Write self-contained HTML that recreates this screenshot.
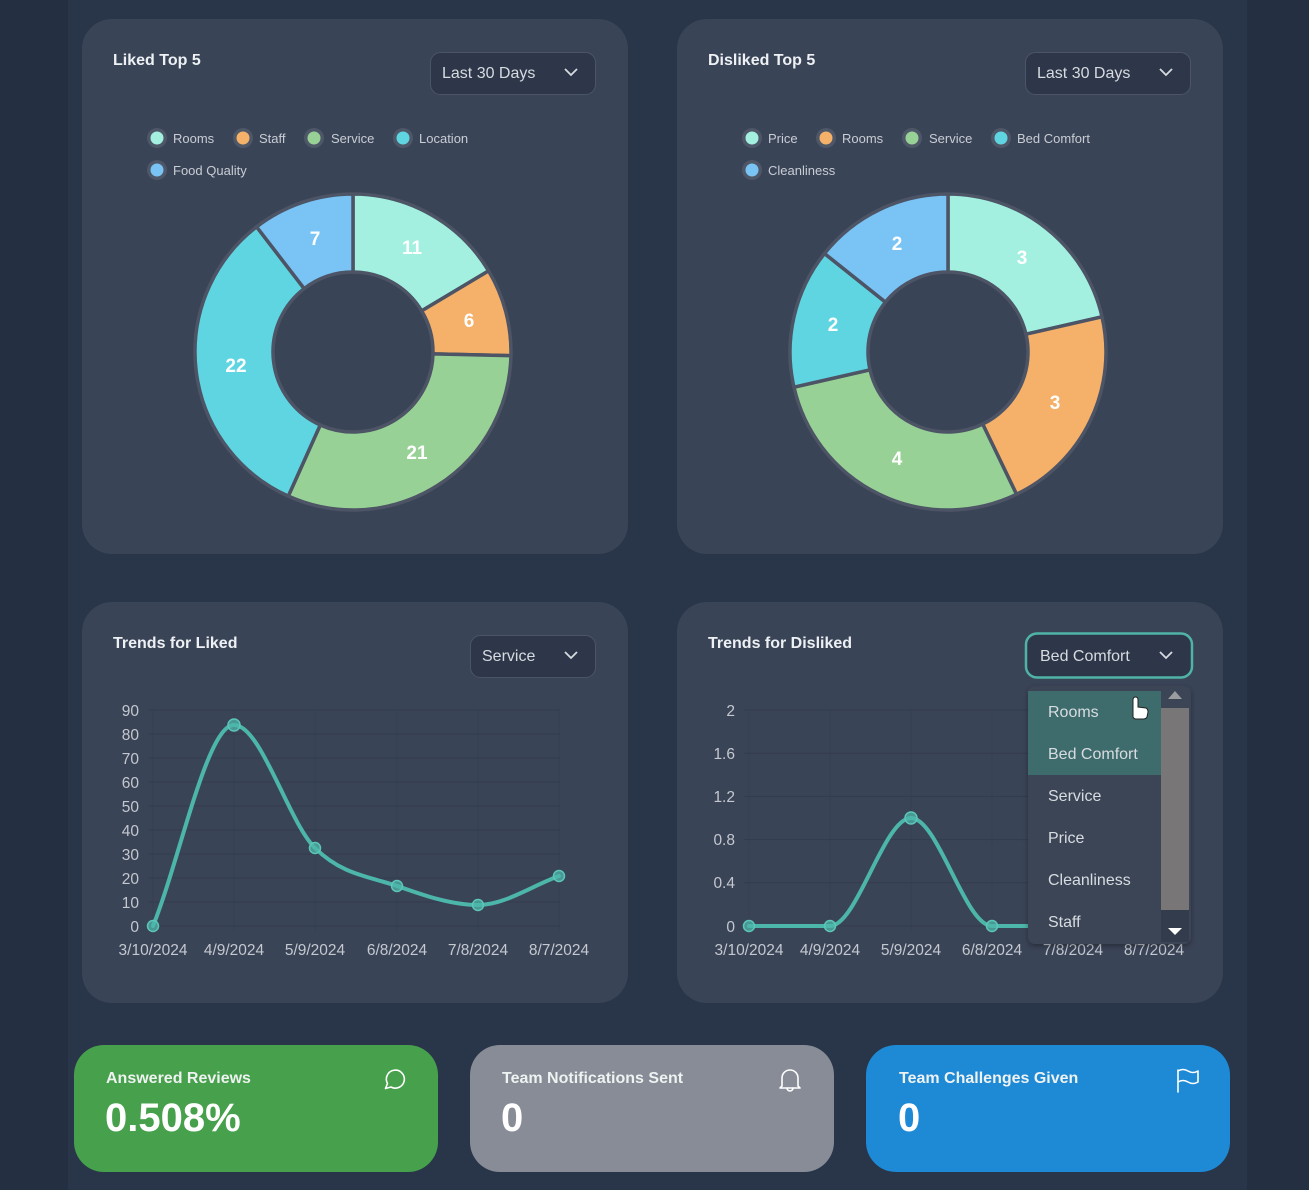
<!DOCTYPE html>
<html><head><meta charset="utf-8">
<style>
html,body{margin:0;padding:0;background:#243042;}
svg{display:block;font-family:"Liberation Sans",Arial,sans-serif;}
</style></head>
<body>
<svg width="1309" height="1190" viewBox="0 0 1309 1190" xmlns="http://www.w3.org/2000/svg">
<defs>
<filter id="sh" x="-20%" y="-20%" width="140%" height="140%"><feDropShadow dx="0" dy="2" stdDeviation="3" flood-color="#000" flood-opacity="0.35"/></filter>
</defs>
<rect width="1309" height="1190" fill="#243042"/>
<rect x="68" y="0" width="1179" height="1190" fill="#293548"/>

<!-- Panels -->
<rect x="82" y="19" width="546" height="535" rx="30" fill="#3a4457"/>
<rect x="677" y="19" width="546" height="535" rx="30" fill="#3a4457"/>
<rect x="82" y="602" width="546" height="401" rx="30" fill="#3a4457"/>
<rect x="677" y="602" width="546" height="401" rx="30" fill="#3a4457"/>

<!-- Titles -->
<g font-weight="bold" font-size="16" fill="#eef1f4">
<text x="113" y="65">Liked Top 5</text>
<text x="708" y="65">Disliked Top 5</text>
<text x="113" y="648">Trends for Liked</text>
<text x="708" y="648">Trends for Disliked</text>
</g>

<!-- Dropdown boxes -->
<g font-size="16" fill="#d7dbe0">
<rect x="430.5" y="52.5" width="165" height="42" rx="10" fill="#2d3749" stroke="#4b5567"/>
<text x="442" y="78">Last 30 Days</text>
<polyline points="565,69 571,75 577,69" fill="none" stroke="#d7dbe0" stroke-width="1.8"/>
<rect x="1025.5" y="52.5" width="165" height="42" rx="10" fill="#2d3749" stroke="#4b5567"/>
<text x="1037" y="78">Last 30 Days</text>
<polyline points="1160,69 1166,75 1172,69" fill="none" stroke="#d7dbe0" stroke-width="1.8"/>
<rect x="470.5" y="635.5" width="125" height="42" rx="10" fill="#2d3749" stroke="#4b5567"/>
<text x="482" y="661">Service</text>
<polyline points="565,652 571,658 577,652" fill="none" stroke="#d7dbe0" stroke-width="1.8"/>
<rect x="1026" y="633.5" width="166" height="44" rx="11" fill="#2d3749" stroke="#4fb3a8" stroke-width="2.5"/>
<text x="1040" y="661">Bed Comfort</text>
<polyline points="1160,652 1166,658 1172,652" fill="none" stroke="#d7dbe0" stroke-width="1.8"/>
</g>

<!-- Legends -->
<g font-size="13" fill="#c9cdd4">
<circle cx="157" cy="138" r="10" fill="#4e5768"/><circle cx="157" cy="138" r="6.5" fill="#a3f0e0"/><text x="173" y="143">Rooms</text>
<circle cx="243" cy="138" r="10" fill="#4e5768"/><circle cx="243" cy="138" r="6.5" fill="#f5b069"/><text x="259" y="143">Staff</text>
<circle cx="314" cy="138" r="10" fill="#4e5768"/><circle cx="314" cy="138" r="6.5" fill="#98d195"/><text x="331" y="143">Service</text>
<circle cx="403" cy="138" r="10" fill="#4e5768"/><circle cx="403" cy="138" r="6.5" fill="#5fd5e2"/><text x="419" y="143">Location</text>
<circle cx="157" cy="170" r="10" fill="#4e5768"/><circle cx="157" cy="170" r="6.5" fill="#79c3f5"/><text x="173" y="175">Food Quality</text>

<circle cx="752" cy="138" r="10" fill="#4e5768"/><circle cx="752" cy="138" r="6.5" fill="#a3f0e0"/><text x="768" y="143">Price</text>
<circle cx="826" cy="138" r="10" fill="#4e5768"/><circle cx="826" cy="138" r="6.5" fill="#f5b069"/><text x="842" y="143">Rooms</text>
<circle cx="912" cy="138" r="10" fill="#4e5768"/><circle cx="912" cy="138" r="6.5" fill="#98d195"/><text x="929" y="143">Service</text>
<circle cx="1001" cy="138" r="10" fill="#4e5768"/><circle cx="1001" cy="138" r="6.5" fill="#5fd5e2"/><text x="1017" y="143">Bed Comfort</text>
<circle cx="752" cy="170" r="10" fill="#4e5768"/><circle cx="752" cy="170" r="6.5" fill="#79c3f5"/><text x="768" y="175">Cleanliness</text>
</g>

<!-- Left donut -->
<g stroke="#4c5465" stroke-width="3.5" stroke-linejoin="round">
<path d="M353,194 A158,158 0 0 1 488.58,270.87 L421.65,310.92 A80,80 0 0 0 353,272 Z" fill="#a3f0e0"/>
<path d="M488.58,270.87 A158,158 0 0 1 510.96,355.70 L432.98,353.87 A80,80 0 0 0 421.65,310.92 Z" fill="#f5b069"/>
<path d="M510.96,355.70 A158,158 0 0 1 288.28,496.13 L320.23,424.98 A80,80 0 0 0 432.98,353.87 Z" fill="#98d195"/>
<path d="M288.28,496.13 A158,158 0 0 1 256.59,226.82 L304.18,288.62 A80,80 0 0 0 320.23,424.98 Z" fill="#5fd5e2"/>
<path d="M256.59,226.82 A158,158 0 0 1 353,194 L353,272 A80,80 0 0 0 304.18,288.62 Z" fill="#79c3f5"/>
</g>
<g font-size="19" font-weight="bold" fill="#ffffff" text-anchor="middle">
<text x="412" y="254">11</text>
<text x="469" y="327">6</text>
<text x="417" y="459">21</text>
<text x="236" y="372">22</text>
<text x="315" y="245">7</text>
</g>

<!-- Right donut -->
<g stroke="#4c5465" stroke-width="3.5" stroke-linejoin="round">
<path d="M948,194 A158,158 0 0 1 1102.04,316.84 L1025.99,334.20 A80,80 0 0 0 948,272 Z" fill="#a3f0e0"/>
<path d="M1102.04,316.84 A158,158 0 0 1 1016.55,494.35 L982.71,424.08 A80,80 0 0 0 1025.99,334.20 Z" fill="#f5b069"/>
<path d="M1016.55,494.35 A158,158 0 0 1 793.96,387.16 L870.01,369.80 A80,80 0 0 0 982.71,424.08 Z" fill="#98d195"/>
<path d="M793.96,387.16 A158,158 0 0 1 824.47,253.49 L885.45,302.12 A80,80 0 0 0 870.01,369.80 Z" fill="#5fd5e2"/>
<path d="M824.47,253.49 A158,158 0 0 1 948,194 L948,272 A80,80 0 0 0 885.45,302.12 Z" fill="#79c3f5"/>
</g>
<g font-size="19" font-weight="bold" fill="#ffffff" text-anchor="middle">
<text x="1022" y="264">3</text>
<text x="1055" y="409">3</text>
<text x="897" y="465">4</text>
<text x="833" y="331">2</text>
<text x="897" y="250">2</text>
</g>

<!-- Left line chart grid -->
<g stroke="#323c4e" stroke-width="1">
<line x1="148" y1="710" x2="560" y2="710"/><line x1="148" y1="734" x2="560" y2="734"/>
<line x1="148" y1="758" x2="560" y2="758"/><line x1="148" y1="782" x2="560" y2="782"/>
<line x1="148" y1="806" x2="560" y2="806"/><line x1="148" y1="830" x2="560" y2="830"/>
<line x1="148" y1="854" x2="560" y2="854"/><line x1="148" y1="878" x2="560" y2="878"/>
<line x1="148" y1="902" x2="560" y2="902"/><line x1="148" y1="926" x2="560" y2="926"/>
<line x1="153" y1="710" x2="153" y2="931" opacity="0.6"/><line x1="234" y1="710" x2="234" y2="931" opacity="0.4"/>
<line x1="315" y1="710" x2="315" y2="931" opacity="0.4"/><line x1="397" y1="710" x2="397" y2="931" opacity="0.4"/>
<line x1="478" y1="710" x2="478" y2="931" opacity="0.4"/><line x1="559" y1="710" x2="559" y2="931" opacity="0.4"/>
</g>
<g font-size="15.5" fill="#c4c8cf" text-anchor="end">
<text x="139" y="716">90</text><text x="139" y="740">80</text><text x="139" y="764">70</text>
<text x="139" y="788">60</text><text x="139" y="812">50</text><text x="139" y="836">40</text>
<text x="139" y="860">30</text><text x="139" y="884">20</text><text x="139" y="908">10</text>
<text x="139" y="932">0</text>
</g>
<g font-size="15.5" fill="#c4c8cf" text-anchor="middle">
<text x="153" y="955">3/10/2024</text><text x="234" y="955">4/9/2024</text>
<text x="315" y="955">5/9/2024</text><text x="397" y="955">6/8/2024</text>
<text x="478" y="955">7/8/2024</text><text x="559" y="955">8/7/2024</text>
</g>
<path d="M153,926 C180,859 207,725 234,725 C261,725 288,821.2 315,848 C342.3,875.1 369.7,876.5 397,886 C424,895.4 451,905 478,905 C505,905 532,885.7 559,876" fill="none" stroke="#4db6aa" stroke-width="4" stroke-linecap="round"/>
<g fill="#4db6aa" fill-opacity="0.75" stroke="#5cc6b9" stroke-width="1.5">
<circle cx="153" cy="926" r="5.5"/><circle cx="234" cy="725" r="6"/><circle cx="315" cy="848" r="5.5"/>
<circle cx="397" cy="886" r="5.5"/><circle cx="478" cy="905" r="5.5"/><circle cx="559" cy="876" r="5.5"/>
</g>

<!-- Right line chart -->
<g stroke="#323c4e" stroke-width="1">
<line x1="744" y1="710" x2="1160" y2="710"/><line x1="744" y1="753.2" x2="1160" y2="753.2"/>
<line x1="744" y1="796.4" x2="1160" y2="796.4"/><line x1="744" y1="839.6" x2="1160" y2="839.6"/>
<line x1="744" y1="882.8" x2="1160" y2="882.8"/><line x1="744" y1="926" x2="1160" y2="926"/>
<line x1="749" y1="710" x2="749" y2="931" opacity="0.6"/><line x1="830" y1="710" x2="830" y2="931" opacity="0.4"/>
<line x1="911" y1="710" x2="911" y2="931" opacity="0.4"/><line x1="992" y1="710" x2="992" y2="931" opacity="0.4"/>
</g>
<g font-size="15.5" fill="#c4c8cf" text-anchor="end">
<text x="735" y="716">2</text><text x="735" y="759">1.6</text><text x="735" y="802">1.2</text>
<text x="735" y="845">0.8</text><text x="735" y="888">0.4</text><text x="735" y="932">0</text>
</g>
<g font-size="15.5" fill="#c4c8cf" text-anchor="middle">
<text x="749" y="955">3/10/2024</text><text x="830" y="955">4/9/2024</text>
<text x="911" y="955">5/9/2024</text><text x="992" y="955">6/8/2024</text>
<text x="1073" y="955">7/8/2024</text><text x="1154" y="955">8/7/2024</text>
</g>
<path d="M749,926 L830,926 C857,926 884,818 911,818 C938,818 965,926 992,926 L1154,926" fill="none" stroke="#4db6aa" stroke-width="4" stroke-linecap="round"/>
<g fill="#4db6aa" fill-opacity="0.75" stroke="#5cc6b9" stroke-width="1.5">
<circle cx="749" cy="926" r="5.5"/><circle cx="830" cy="926" r="5.5"/><circle cx="911" cy="818" r="6"/>
<circle cx="992" cy="926" r="5.5"/>
</g>

<!-- Dropdown list -->
<g filter="url(#sh)">
<rect x="1028" y="686" width="163" height="258" rx="7" fill="#3a4457"/>
</g>
<rect x="1028" y="691" width="133" height="84" fill="#3e6c6c"/>
<rect x="1161" y="708" width="28" height="202" fill="#787676"/>
<rect x="1161" y="910" width="28" height="32" fill="#333c4d"/>
<polygon points="1168,699 1182,699 1175,691" fill="#9a9ca0"/>
<polygon points="1168,928 1182,928 1175,935" fill="#ffffff"/>
<g font-size="16" fill="#d8dce1">
<text x="1048" y="717">Rooms</text>
<text x="1048" y="759">Bed Comfort</text>
<text x="1048" y="801">Service</text>
<text x="1048" y="843">Price</text>
<text x="1048" y="885">Cleanliness</text>
<text x="1048" y="927">Staff</text>
</g>
<!-- hand cursor -->
<path d="M1133,714 L1133,700 Q1133,697 1135.5,697 Q1138,697 1138,700 L1138,707 L1146,708 Q1148,709 1148,712 L1147,717 Q1146,719 1143,719 L1136,719 Q1134,719 1133,717 Z" fill="#ffffff" stroke="#222" stroke-width="1"/>

<!-- Stat cards -->
<rect x="74" y="1045" width="364" height="127" rx="30" fill="#47a04b"/>
<rect x="470" y="1045" width="364" height="127" rx="30" fill="#878c97"/>
<rect x="866" y="1045" width="364" height="127" rx="30" fill="#1e89d5"/>
<g font-weight="bold" font-size="16" fill="#eef2f0">
<text x="106" y="1083">Answered Reviews</text>
<text x="502" y="1083">Team Notifications Sent</text>
<text x="899" y="1083">Team Challenges Given</text>
</g>
<g font-weight="bold" font-size="40" fill="#ffffff">
<text x="105" y="1131">0.508%</text>
<text x="501" y="1131">0</text>
<text x="898" y="1131">0</text>
</g>
<!-- icons -->
<path d="M385.5,1088.5 L387.5,1083.5 A9,9 0 1 1 391,1087 Z" fill="none" stroke="#ffffff" stroke-width="1.6" stroke-linejoin="round"/>
<g fill="none" stroke="#ffffff" stroke-width="1.6" stroke-linejoin="round" stroke-linecap="round">
<path d="M782,1086 L782,1078 A8,8 0 0 1 798,1078 L798,1086 L800,1088 L780,1088 Z"/>
<path d="M787,1088 A3,3 0 0 0 793,1088"/>
<path d="M1178,1092 L1178,1070"/>
<path d="M1178,1071 Q1183,1068 1188,1071 Q1193,1074 1198,1071 L1198,1082 Q1193,1085 1188,1082 Q1183,1079 1178,1082"/>
</g>
</svg>
</body></html>
